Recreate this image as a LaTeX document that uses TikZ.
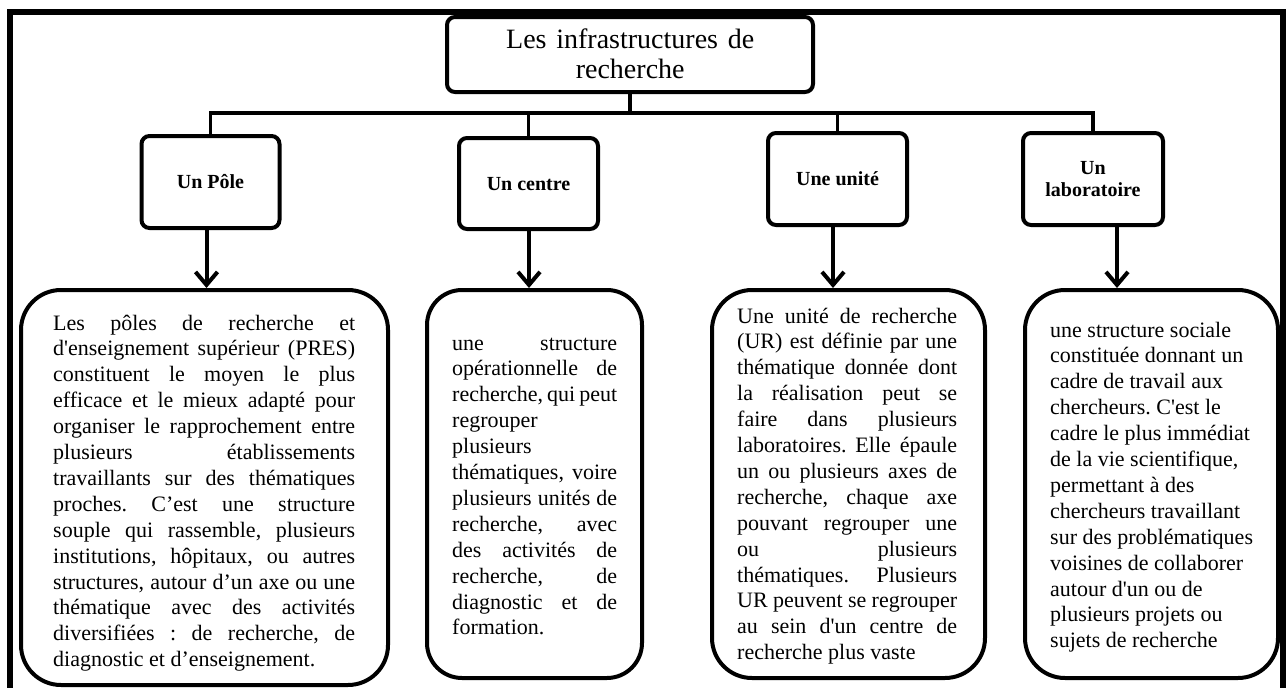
\documentclass[tikz,border=0pt]{standalone}
\usepackage{fontspec}
\setmainfont{Liberation Serif}
\usetikzlibrary{arrows.meta}
\frenchspacing
\newcommand\JL[1]{\hbox to \hsize{#1}}
\newcommand\LL[1]{\hbox{#1}}
\newcommand\bodyfont{\fontsize{22pt}{25.9pt}\selectfont}
\newcommand\parblock[2]{\vtop{\hsize=#1\relax\baselineskip=25.9pt\lineskiplimit=-\maxdimen\lineskip=0pt #2}}
\begin{document}
\begin{tikzpicture}[x=1pt,y=-1pt,
  boxline/.style={draw=black, line width=4pt},
  titlebox/.style={boxline, rounded corners=8pt, minimum width=366pt, minimum height=75pt, inner sep=0pt},
  childbox/.style={boxline, rounded corners=8pt, minimum width=138pt, minimum height=92pt, inner sep=0pt, font=\fontsize{20pt}{22pt}\selectfont\bfseries, align=center},
  textbox/.style={boxline, rounded corners=40pt, inner sep=0pt},
  bodytext/.style={inner sep=0pt, anchor=base west, font=\bodyfont},
  conn/.style={line width=3.5pt},
  arrowline/.style={line width=4pt, -{Straight Barb[length=13pt,width=22pt]}},
  frameline/.style={line width=6pt}]
\useasboundingbox (0,0) rectangle (1286,688);
\coordinate (fa) at (10,688);
\coordinate (fb) at (10,12);
\coordinate (fc) at (1283,12);
\coordinate (fd) at (1283,688);
\draw[frameline] (fa) -- (fb) -- (fc) -- (fd);

% title
\node[titlebox] (title) at (630,54.5) {};
\node[inner sep=0pt, anchor=base west, font=\fontsize{28pt}{30pt}\selectfont] (titletext) at (506,48)
  {\vtop{\hsize=248pt\baselineskip=30pt \JL{Les infrastructures de}\hbox to\hsize{\hfil recherche\hfil}}};

% child boxes
\node[childbox, text height=13.5pt, text depth=0pt] (pole) at (210.5,182) {Un Pôle};
\node[childbox, minimum width=139pt, minimum height=91pt, text height=13.5pt, text depth=0pt] (centre) at (528.5,183.5) {Un centre};
\node[childbox, minimum width=139pt, text height=13.5pt, text depth=0pt] (unite) at (837.5,179) {Une unité};
\node[childbox, minimum width=140pt] (labo) at (1093,179) {Un\\laboratoire};

% connectors
\coordinate (bus) at (630,113);
\draw[conn] (title.south) -- (bus);
\draw[conn] (pole.north) |- (bus) -| (labo.north);
\draw[conn] (centre.north) -- (centre.north |- bus);
\draw[conn] (unite.north) -- (unite.north |- bus);

% text boxes
\node[textbox, minimum width=367pt, minimum height=395pt] (tpole) at (204.5,487.5) {};
\node[textbox, minimum width=215pt, minimum height=388pt, rounded corners=35pt] (tcentre) at (534.5,484) {};
\node[textbox, minimum width=273pt, minimum height=388pt] (tunite) at (848.5,484) {};
\node[textbox, minimum width=253pt, minimum height=388pt] (tlabo) at (1151.5,484) {};

% arrows
\draw[arrowline] ([xshift=-4pt]pole.south) -- ([xshift=-4pt]pole.south |- tpole.north);
\draw[arrowline] ([xshift=0.5pt]centre.south) -- ([xshift=0.5pt]centre.south |- tcentre.north);
\draw[arrowline] ([xshift=-4.5pt]unite.south) -- ([xshift=-4.5pt]unite.south |- tunite.north);
\draw[arrowline] ([xshift=24pt]labo.south) -- ([xshift=24pt]labo.south |- tlabo.north);

% texts
\node[bodytext] (ptext) at (53,330) {\parblock{302pt}{%
\JL{Les pôles de recherche et}
\JL{d\textquotesingle enseignement supérieur (PRES)}
\JL{constituent le moyen le plus}
\JL{efficace et le mieux adapté pour}
\JL{organiser le rapprochement entre}
\JL{plusieurs établissements}
\JL{travaillants sur des thématiques}
\JL{proches. C’est une structure}
\JL{souple qui rassemble, plusieurs}
\JL{institutions, hôpitaux, ou autres}
\JL{structures, autour d’un axe ou une}
\JL{thématique avec des activités}
\JL{diversifiées : de recherche, de}
\LL{diagnostic et d’enseignement.}}};

\node[bodytext] (ctext) at (452,350) {\parblock{165pt}{%
\JL{une structure}
\JL{opérationnelle de}
\JL{recherche, qui peut}
\LL{regrouper}
\LL{plusieurs}
\JL{thématiques, voire}
\JL{plusieurs unités de}
\JL{recherche, avec}
\JL{des activités de}
\JL{recherche, de}
\JL{diagnostic et de}
\LL{formation.}}};

\node[bodytext] (utext) at (737,323) {\parblock{220pt}{%
\JL{Une unité de recherche}
\JL{(UR) est définie par une}
\JL{thématique donnée dont}
\JL{la réalisation peut se}
\JL{faire dans plusieurs}
\JL{laboratoires. Elle épaule}
\JL{un ou plusieurs axes de}
\JL{recherche, chaque axe}
\JL{pouvant regrouper une}
\JL{ou plusieurs}
\JL{thématiques. Plusieurs}
\JL{UR peuvent se regrouper}
\JL{au sein d\textquotesingle un centre de}
\LL{recherche plus vaste}}};

\node[bodytext] (ltext) at (1050,337) {\parblock{210pt}{%
\LL{une structure sociale}
\LL{constituée donnant un}
\LL{cadre de travail aux}
\LL{chercheurs. C\textquotesingle est le}
\LL{cadre le plus immédiat}
\LL{de la vie scientifique,}
\LL{permettant à des}
\LL{chercheurs travaillant}
\LL{sur des problématiques}
\LL{voisines de collaborer}
\LL{autour d\textquotesingle un ou de}
\LL{plusieurs projets ou}
\LL{sujets de recherche}}};
\end{tikzpicture}
\end{document}
